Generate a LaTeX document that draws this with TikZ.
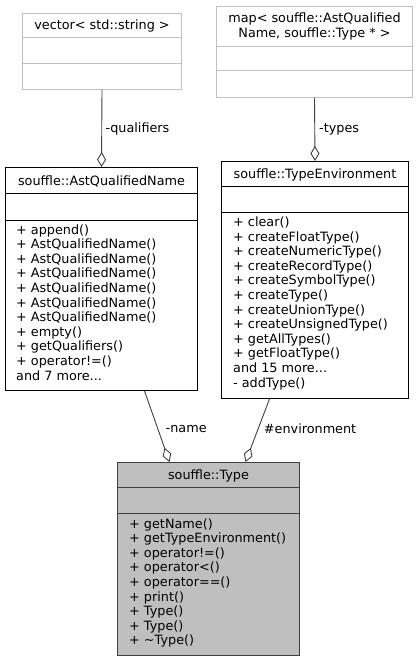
\documentclass[tikz,border=0pt]{standalone}
\usepackage{fontspec}
\setmainfont{DejaVu Sans}
\usepackage{tikz}
\usetikzlibrary{arrows.meta}
\definecolor{edgegray}{HTML}{404040}
\definecolor{boxgray}{HTML}{BFBFBF}
\def\lineh{14.6}
\def\tdots{...}

\begin{document}
\begin{tikzpicture}[x=1pt, y=-1pt,
  every node/.style={font=\fontsize{12.8}{14.6}\selectfont, inner sep=0pt},
  classbox/.style={draw=black, line width=1pt, fill=white, anchor=north west},
  extbox/.style={classbox, draw=boxgray},
  mainbox/.style={classbox, draw=edgegray, fill=boxgray},
  methline/.style={anchor=base west},
  headline/.style={anchor=base},
  aggr/.style={draw=edgegray, line width=0.9pt, -{Diamond[open, length=15pt, width=9pt]}},
  rolelabel/.style={anchor=west}]
\useasboundingbox (0,0) rectangle (419,661);

% class boxes
\node[extbox, minimum width=159pt, minimum height=76pt] (vec) at (22,13) {};
\node[extbox, minimum width=196pt, minimum height=91pt] (map) at (216,6) {};
\node[classbox, minimum width=192pt, minimum height=223pt] (aqn) at (5,167) {};
\node[classbox, minimum width=187pt, minimum height=237pt] (tenv) at (221,161) {};
\node[mainbox, minimum width=182pt, minimum height=193pt] (type) at (117,462) {};

% compartments
\draw[boxgray, line width=1pt] (vec.north west) ++(0,25) -- ++(159,0) ++(-159,26) -- ++(159,0);
\draw[boxgray, line width=1pt] (map.north west) ++(0,41) -- ++(196,0) ++(-196,24) -- ++(196,0);
\draw[line width=1pt] (aqn.north west) ++(0,26) -- ++(192,0) ++(-192,27) -- ++(192,0);
\draw[line width=1pt] (tenv.north west) ++(0,25) -- ++(187,0) ++(-187,26) -- ++(187,0);
\draw[edgegray, line width=1pt] (type.north west) ++(0,25) -- ++(182,0) ++(-182,26) -- ++(182,0);

% class names
\node[headline] (vec-h) at ([yshift=-16.5pt]vec.north) {vector< std::string >};
\node[align=center] (map-h) at ([yshift=-20.5pt]map.north) {map< souffle::AstQualified\\Name, souffle::Type * >};
\node[headline] (aqn-h) at ([yshift=-18pt]aqn.north) {souffle::AstQualifiedName};
\node[headline] (tenv-h) at ([yshift=-17.5pt]tenv.north) {souffle::TypeEnvironment};
\node[headline] (type-h) at ([yshift=-17.5pt]type.north) {souffle::Type};

% members
\foreach \m [count=\i] in {+ append(), + AstQualifiedName(), + AstQualifiedName(),
  + AstQualifiedName(), + AstQualifiedName(), + AstQualifiedName(), + AstQualifiedName(),
  + empty(), + getQualifiers(), + operator!=(), and 7 more\tdots}
  \node[methline] (aqn-m\i) at ([xshift=11pt, yshift={-67pt-(\i-1)*\lineh pt}]aqn.north west) {\m};
\foreach \m [count=\i] in {+ clear(), + createFloatType(), + createNumericType(),
  + createRecordType(), + createSymbolType(), + createType(), + createUnionType(),
  + createUnsignedType(), + getAllTypes(), + getFloatType(), and 15 more\tdots, - addType()}
  \node[methline] (tenv-m\i) at ([xshift=12pt, yshift={-65.5pt-(\i-1)*\lineh pt}]tenv.north west) {\m};
\foreach \m [count=\i] in {+ getName(), + getTypeEnvironment(), + operator!=(),
  + operator<(), + operator==(), + print(), + Type(), + Type(), + \textasciitilde Type()}
  \node[methline] (type-m\i) at ([xshift=12pt, yshift={-66pt-(\i-1)*\lineh pt}]type.north west) {\m};

% associations
\draw[aggr] (vec.south) -- (aqn.north) node[rolelabel, midway, xshift=3.5pt] (lq) {-qualifiers};
\draw[aggr] (map.south) -- (tenv.north) node[rolelabel, midway, xshift=4pt] (lt) {-types};
\draw[aggr] ([xshift=43pt]aqn.south) -- ([xshift=-39pt]type.north) node[rolelabel, pos=.53, xshift=7.5pt] (ln) {-name};
\draw[aggr] ([xshift=-45.5pt]tenv.south) -- ([xshift=37pt]type.north) node[rolelabel, pos=.47, xshift=5.3pt] (le) {\#environment};
\end{tikzpicture}
\end{document}
